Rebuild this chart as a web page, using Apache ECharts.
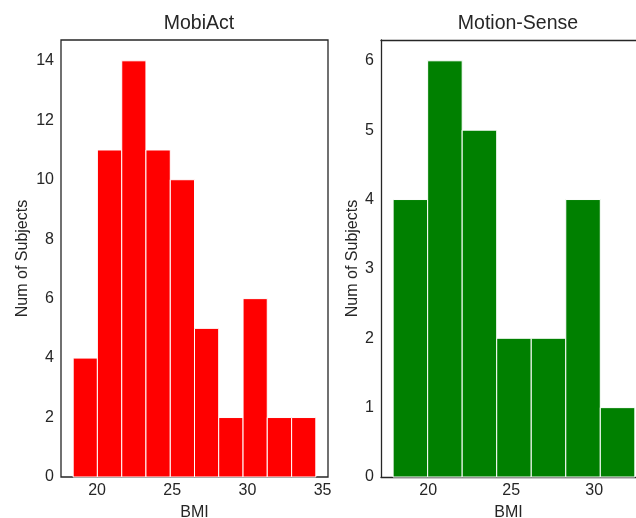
<!DOCTYPE html>
<html>
<head>
<meta charset="utf-8">
<script src="https://cdn.jsdelivr.net/npm/echarts@6/dist/echarts.min.js"></script>
<style>html,body{margin:0;padding:0;background:#fff;}#c{width:636px;height:518px;}</style>
</head>
<body>
<div id="c"></div>
<script>
// MobiAct histogram
const mobiEdges = [18.41, 20.02, 21.64, 23.25, 24.87, 26.48, 28.09, 29.71, 31.32, 32.94, 34.55];
const mobiCounts = [4, 11, 14, 11, 10, 5, 2, 6, 2, 2];
// Motion-Sense histogram
const msEdges = [17.89, 19.97, 22.05, 24.13, 26.21, 28.29, 30.37, 32.45];
const msCounts = [4, 6, 5, 2, 2, 4, 1];
// tick labels
const mobiXTicks = [20, 25, 30, 35];
const mobiYTicks = [0, 2, 4, 6, 8, 10, 12, 14];
const msXTicks = [20, 25, 30];
const msYTicks = [0, 1, 2, 3, 4, 5, 6];

function toData(edges, counts) {
  return counts.map((c, i) => [edges[i], edges[i + 1], c]);
}
function rend(color) {
  return function (params, api) {
    const p0 = api.coord([api.value(0), api.value(2)]);
    const p1 = api.coord([api.value(1), 0]);
    return {
      type: 'rect',
      shape: { x: p0[0], y: p0[1], width: p1[0] - p0[0], height: p1[1] - p0[1] },
      style: { fill: color, stroke: '#ffffff', lineWidth: 1 }
    };
  };
}
const font = 'Liberation Sans, Arial, sans-serif';
const txt = '#262626';
const frame = { show: true, lineStyle: { color: txt, width: 1.3 } };
function xAx(idx, min, max, ticks, showLine) {
  return {
    type: 'value', gridIndex: idx, min: min, max: max,
    name: 'BMI', nameLocation: 'middle', nameGap: 28,
    nameTextStyle: { color: txt, fontSize: 16, fontFamily: font },
    axisLine: showLine ? frame : { show: false }, axisTick: { show: false }, splitLine: { show: false },
    axisLabel: { customValues: ticks, color: txt, fontSize: 16, fontFamily: font, margin: 6 }
  };
}
function yAx(idx, max, ticks, gap, showLine) {
  return {
    type: 'value', gridIndex: idx, min: 0, max: max,
    name: 'Num of Subjects', nameLocation: 'middle', nameGap: gap,
    nameTextStyle: { color: txt, fontSize: 16, fontFamily: font },
    axisLine: showLine ? frame : { show: false }, axisTick: { show: false }, splitLine: { show: false },
    axisLabel: { customValues: ticks, color: txt, fontSize: 16, fontFamily: font, margin: 7 }
  };
}
const topLine = {
  type: 'value', gridIndex: 1, position: 'top', min: 17.16, max: 32.52,
  axisLine: frame, axisTick: { show: false }, axisLabel: { show: false }, splitLine: { show: false }
};
const chart = echarts.init(document.getElementById('c'), null, { renderer: 'canvas' });
chart.setOption({
  backgroundColor: '#ffffff',
  animation: false,
  title: [
    { text: 'MobiAct', left: 194, top: 9, textAlign: 'center',
      textStyle: { color: txt, fontSize: 19.5, fontWeight: 'normal', fontFamily: font } },
    { text: 'Motion-Sense', left: 513, top: 9, textAlign: 'center',
      textStyle: { color: txt, fontSize: 19.5, fontWeight: 'normal', fontFamily: font } }
  ],
  grid: [
    { left: 61, top: 40, width: 267, height: 437, outerBoundsMode: 'none', containLabel: false, show: true, borderColor: txt, borderWidth: 1.3, backgroundColor: 'transparent' },
    { left: 381, top: 40, right: 0, height: 437, outerBoundsMode: 'none', containLabel: false, show: false }
  ],
  xAxis: [xAx(0, 17.60, 35.36, mobiXTicks, false), xAx(1, 17.16, 32.52, msXTicks, true), topLine],
  yAxis: [yAx(0, 14.7, mobiYTicks, 30, false), yAx(1, 6.3, msYTicks, 20, true)],
  series: [
    { type: 'custom', xAxisIndex: 0, yAxisIndex: 0, data: toData(mobiEdges, mobiCounts), renderItem: rend('#ff0000'), encode: { x: [0, 1], y: 2 } },
    { type: 'custom', xAxisIndex: 1, yAxisIndex: 1, data: toData(msEdges, msCounts), renderItem: rend('#008000'), encode: { x: [0, 1], y: 2 } }
  ]
});
</script>
</body>
</html>
